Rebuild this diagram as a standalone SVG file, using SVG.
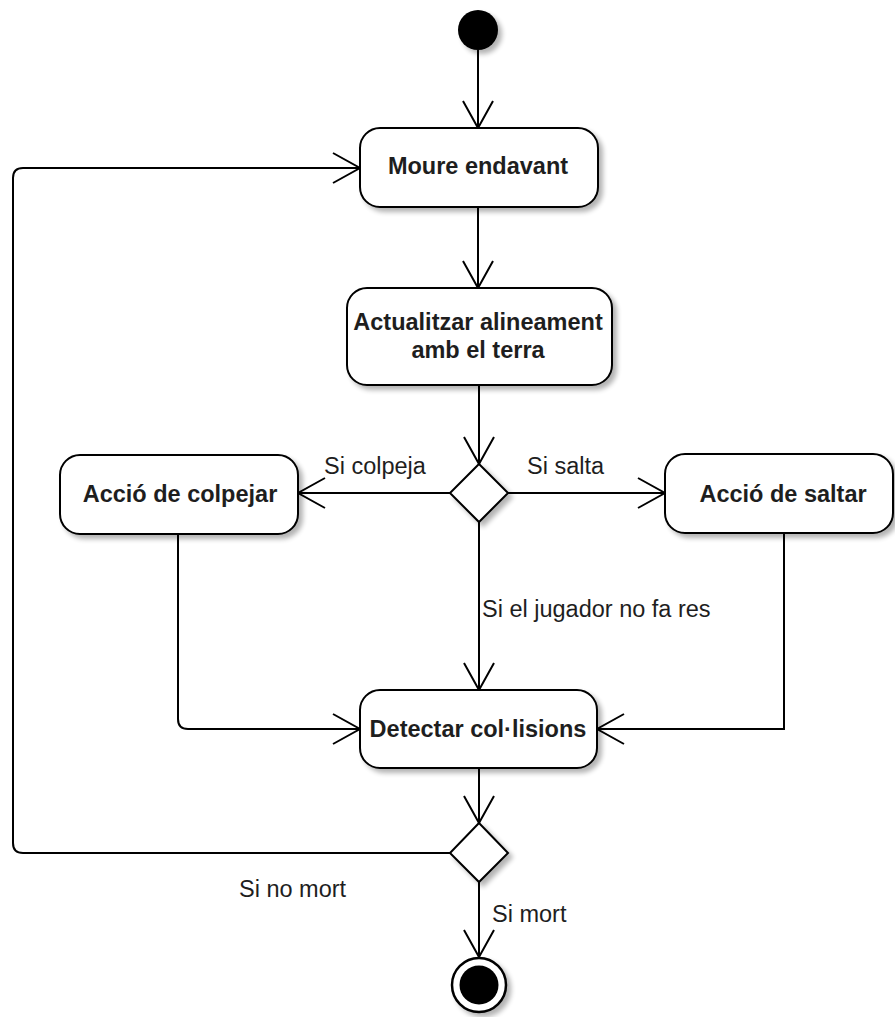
<svg xmlns="http://www.w3.org/2000/svg" width="895" height="1017" viewBox="0 0 895 1017">
  <style>
    .node { fill: #ffffff; stroke: #000000; stroke-width: 2; filter: url(#shadow); }
    .title { font-family: "Liberation Sans", Arial, sans-serif; font-weight: bold; font-size: 23.5px; fill: #1e1e1e; text-anchor: middle; }
    .label { font-family: "Liberation Sans", Arial, sans-serif; font-size: 23.5px; fill: #1e1e1e; }
    .edge { fill: none; stroke: #000000; stroke-width: 2; }
  </style>
  <defs>
    <filter id="shadow" x="-20%" y="-20%" width="150%" height="150%">
      <feGaussianBlur in="SourceAlpha" stdDeviation="2.5"/>
      <feOffset dx="4" dy="4" result="blur"/>
      <feComponentTransfer><feFuncA type="linear" slope="0.3"/></feComponentTransfer>
      <feMerge><feMergeNode/><feMergeNode in="SourceGraphic"/></feMerge>
    </filter>
    <marker id="open" viewBox="0 0 30 32" refX="28" refY="16" markerWidth="30" markerHeight="32" markerUnits="userSpaceOnUse" orient="auto">
      <path d="M1,1 L28,16 L1,31" fill="none" stroke="#000000" stroke-width="2"/>
    </marker>
  </defs>

  <!-- connectors -->
  <g id="connectors">
    <path class="edge" d="M478,50 L478,128" marker-end="url(#open)"/>
    <path class="edge" d="M478,207 L478,288" marker-end="url(#open)"/>
    <path class="edge" d="M479,385 L479,464" marker-end="url(#open)"/>
    <path class="edge" d="M450,493 L298,493" marker-end="url(#open)"/>
    <path class="edge" d="M508,493 L665,493" marker-end="url(#open)"/>
    <path class="edge" d="M479,522 L479,690" marker-end="url(#open)"/>
    <path class="edge" d="M178,534 L178,719 Q178,729 188,729 L360,729" marker-end="url(#open)"/>
    <path class="edge" d="M784,533 L784,729 L597,729" marker-end="url(#open)"/>
    <path class="edge" d="M479,768 L479,823" marker-end="url(#open)"/>
    <path class="edge" d="M450,853 L23,853 Q13,853 13,843 L13,178 Q13,168 23,168 L360,168" marker-end="url(#open)"/>
    <path class="edge" d="M479,882 L479,957" marker-end="url(#open)"/>
    <text class="label" x="324" y="474">Si colpeja</text>
    <text class="label" x="527" y="474">Si salta</text>
    <text class="label" x="482" y="617">Si el jugador no fa res</text>
    <text class="label" x="239" y="897">Si no mort</text>
    <text class="label" x="492" y="922">Si mort</text>
  </g>

  <!-- initial state -->
  <g id="start">
    <circle cx="478" cy="30" r="20" fill="#000000" filter="url(#shadow)"/>
  </g>

  <g id="moure">
    <rect class="node" x="360" y="128" width="238" height="79" rx="20" ry="20"/>
    <text class="title" x="478" y="174">Moure endavant</text>
  </g>

  <g id="actualitzar">
    <rect class="node" x="347" y="288" width="265" height="97" rx="20" ry="20"/>
    <text class="title" x="478" y="330">Actualitzar alineament</text>
    <text class="title" x="478" y="358">amb el terra</text>
  </g>

  <g id="decisio-accio">
    <polygon class="node" points="479,464 508,493 479,522 450,493"/>
  </g>

  <g id="colpejar">
    <rect class="node" x="60" y="455" width="238" height="79" rx="20" ry="20"/>
    <text class="title" x="180" y="502">Acció de colpejar</text>
  </g>

  <g id="saltar">
    <rect class="node" x="665" y="454" width="228" height="79" rx="20" ry="20"/>
    <text class="title" x="783" y="502">Acció de saltar</text>
  </g>

  <g id="detectar">
    <rect class="node" x="360" y="690" width="237" height="78" rx="20" ry="20"/>
    <text class="title" x="478" y="737">Detectar col·lisions</text>
  </g>

  <g id="decisio-mort">
    <polygon class="node" points="479,823 508,853 479,882 450,853"/>
  </g>

  <!-- final state -->
  <g id="end">
    <circle cx="479" cy="985" r="27" fill="#ffffff" stroke="#000000" stroke-width="2.5" filter="url(#shadow)"/>
    <circle cx="479" cy="985" r="19.5" fill="#000000"/>
  </g>
</svg>
